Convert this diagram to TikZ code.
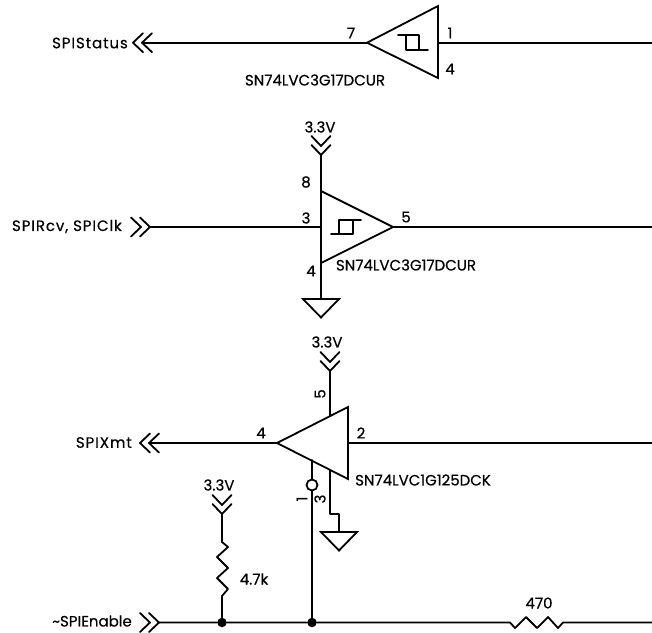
\documentclass[tikz,border=0pt]{standalone}
\usepackage{fontspec}
\setmainfont{Poppins}[FakeBold=0.5]
\newfontfamily\widefont{Poppins}[FakeBold=0.5,LetterSpace=6]
\newcommand{\dblchev}[3]{%
  \begin{scope}[shift={(#1,#2)},rotate=#3]
    \draw[wire] (-10,-9.5) -- (0,0) -- (-10,9.5);
    \draw[wire] (-19,-9.5) -- (-9,0) -- (-19,9.5);
  \end{scope}}
\newcommand{\gnd}[2]{%
  \draw[wire,line join=miter] (#1-18,#2) -- (#1+18,#2) -- (#1,#2+18.5) -- cycle;}
\tikzset{
  wire/.style={line width=1.8pt,line cap=round,line join=round},
  lbl/.style={inner sep=0pt,font=\fontsize{15}{16}\selectfont},
  sig/.style={inner sep=0pt,anchor=east,font=\fontsize{15}{16}\selectfont\widefont},
  dot/.style={circle,fill=black,draw=none,minimum size=9.5pt,inner sep=0pt},
  bubble/.style={circle,draw,line width=1.8pt,minimum size=11pt,inner sep=0pt,fill=white},
}
\begin{document}
\begin{tikzpicture}[x=1pt,y=-1pt]
\useasboundingbox (0,0) rectangle (652,632);

% ---------- top buffer
\coordinate (t7) at (367,42.7);
\coordinate (t1) at (438,42.7);
\coordinate (tT) at (438,6);
\coordinate (tB) at (438,78);
\coordinate (tL) at (142,42.7);
\coordinate (tR) at (652,42.7);
\draw[wire,line join=miter] (t7) -- (tT) -- (tB) -- cycle;
\draw[wire] (tL) -- (t7);
\draw[wire] (t1) -- (tR);
\dblchev{133}{42.7}{180}
\draw[wire] (398,35) -- (419,35) -- (419,50) (428,50) -- (406,50) -- (406,35);
\node[sig] (ts) at (128,43) {SPIStatus};
\node[lbl] (tp7) at (351,33) {7};
\node[lbl] (tp1) at (450,33) {1};
\node[lbl] (tp4) at (450,69) {4};
\node[lbl] (tn) at (315,80) {SN74LVC3G17DCUR};

% ---------- middle buffer
\coordinate (mV) at (321,155);
\coordinate (mG) at (321,299);
\coordinate (mT) at (321,191);
\coordinate (mB) at (321,263);
\coordinate (m3) at (321,227);
\coordinate (m5) at (393,227);
\coordinate (mL) at (150,227);
\coordinate (mR) at (652,227);
\draw[wire] (mV) -- (mG);
\draw[wire,line join=miter] (mT) -- (m5) -- (mB);
\draw[wire] (mL) -- (m3);
\draw[wire] (m5) -- (mR);
\dblchev{321}{155}{-90}
\dblchev{150}{227}{0}
\gnd{321}{299}
\draw[wire] (331,234) -- (353,234) (361,220) -- (339,220) -- (339,234) (353,220) -- (353,234);
\node[lbl] (mv) at (320,127) {3.3V};
\node[sig] (ms) at (122,226.5) {SPIRcv, SPIClk};
\node[lbl] (mp8) at (306,182) {8};
\node[lbl] (mp3) at (306,218) {3};
\node[lbl] (mp5) at (406,217) {5};
\node[lbl] (mp4) at (311,271) {4};
\node[lbl] (mn) at (406,265) {SN74LVC3G17DCUR};

% ---------- lower buffer
\coordinate (bA) at (277,443);
\coordinate (bT) at (348,407);
\coordinate (bB) at (348,479);
\coordinate (b2) at (348,443);
\coordinate (bL) at (149,443);
\coordinate (bR) at (652,443);
\coordinate (b5t) at (330,371);
\coordinate (b5b) at (330,416);
\coordinate (b1t) at (312,460);
\coordinate (b3t) at (330,470);
\coordinate (b3m) at (330,514);
\coordinate (b3n) at (339,514);
\coordinate (b3g) at (339,532);
\draw[wire,line join=miter] (bA) -- (bT) -- (bB) -- cycle;
\draw[wire] (bL) -- (bA);
\draw[wire] (b2) -- (bR);
\draw[wire] (b5t) -- (b5b);
\draw[wire] (b3t) -- (b3m) -- (b3n) -- (b3g);
\dblchev{140}{443}{180}
\dblchev{330}{371}{-90}
\gnd{339}{532}
\node[sig] (bs) at (132,442.5) {SPIXmt};
\node[lbl] (bv) at (327,342) {3.3V};
\node[lbl,rotate=90] (bp5) at (320,394) {5};
\node[lbl] (bp2) at (361,433) {2};
\node[lbl] (bp4) at (261,433) {4};
\node[lbl,rotate=90] (bp1) at (302,499) {1};
\node[lbl,rotate=90] (bp3) at (320,499) {3};
\node[lbl] (bn) at (423,480) {SN74LVC1G125DCK};

% ---------- enable net
\coordinate (eL) at (159,622.5);
\node[dot] (d1) at (222,622.5) {};
\node[dot] (d2) at (312,622.5) {};
\node[bubble] (bub) at (312,485) {};
\coordinate (eR) at (652,622.5);
\coordinate (r1a) at (510,622.5);
\coordinate (r1b) at (563,622.5);
\coordinate (r2a) at (222,542);
\coordinate (r2b) at (222,596);
\coordinate (pu) at (222,514);
\draw[wire] (eL) -- (d1) -- (d2) -- (r1a)
  -- (515,628) -- (526,617) -- (537,628) -- (548,617) -- (558,628) -- (r1b) -- (eR);
\draw[wire] (pu) -- (r2a) -- (228,547) -- (217,557) -- (228,568) -- (217,578) -- (228,589) -- (r2b) -- (d1);
\draw[wire] (b1t) -- (bub);
\draw[wire] (bub) -- (d2);
\dblchev{159}{622.5}{0}
\dblchev{222}{514}{-90}
\node[lbl] (ev) at (219,485) {3.3V};
\node[lbl] (r2v) at (254,579) {4.7k};
\node[lbl] (r1v) at (539,603) {470};
\node[lbl,anchor=east] (es) at (132,621) {\char`~SPIEnable};
\end{tikzpicture}
\end{document}
